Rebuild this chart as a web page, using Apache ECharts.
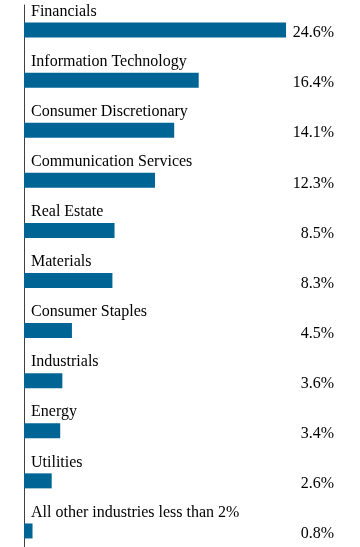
<!DOCTYPE html>
<html>
<head>
<meta charset="utf-8">
<script src="https://cdn.jsdelivr.net/npm/echarts@6/dist/echarts.min.js"></script>
<style>
html,body{margin:0;padding:0;background:#fff;}
#chart{width:360px;height:547px;}
</style>
</head>
<body>
<div id="chart"></div>
<script>
const categories = [
  "Financials",
  "Information Technology",
  "Consumer Discretionary",
  "Communication Services",
  "Real Estate",
  "Materials",
  "Consumer Staples",
  "Industrials",
  "Energy",
  "Utilities",
  "All other industries less than 2%"
];
const values = [24.6, 16.4, 14.1, 12.3, 8.5, 8.3, 4.5, 3.6, 3.4, 2.6, 0.8];
const valueLabels = values.map(v => v.toFixed(1) + "%");

const FONT = "serif";
const chart = echarts.init(document.getElementById('chart'), null, {renderer: 'canvas'});
chart.setOption({
  animation: false,
  backgroundColor: '#ffffff',
  textStyle: {fontFamily: FONT},
  grid: {left: 24, right: 26, top: 5, height: 551, containLabel: false, outerBoundsMode: 'none'},
  xAxis: {
    type: 'value', min: 0, max: 29.1, show: false
  },
  yAxis: [
    {
      type: 'category', data: categories, inverse: true,
      axisLine: {show: true, onZero: false, lineStyle: {color: '#404040', width: 1}},
      axisTick: {show: false},
      axisLabel: {show: false},
      splitLine: {show: false}
    },
    {
      type: 'category', data: valueLabels, inverse: true, position: 'right',
      axisLine: {show: false}, axisTick: {show: false}, splitLine: {show: false},
      axisLabel: {
        show: true, inside: true, margin: 0, align: 'right', verticalAlign: 'middle',
        formatter: v => '{v|' + v + '}',
        rich: {
          v: {padding: [6, 0, 0, 0], color: '#000', fontFamily: FONT, fontSize: 16}
        },
        color: '#000', fontFamily: FONT, fontSize: 16
      }
    }
  ],
  series: [{
    type: 'bar',
    data: values,
    yAxisIndex: 0,
    barWidth: 15,
    itemStyle: {color: '#006595'},
    label: {
      show: true,
      position: [7, -11],
      align: 'left', verticalAlign: 'middle',
      formatter: '{b}',
      color: '#000', fontFamily: FONT, fontSize: 16
    }
  }]
});
</script>
</body>
</html>
